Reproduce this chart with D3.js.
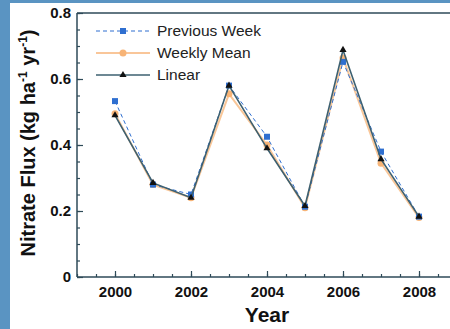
<!DOCTYPE html>
<html>
<head>
<meta charset="utf-8">
<script src="https://d3js.org/d3.v7.min.js"></script>
<style>
  body { margin: 0; background: #fff; }
  svg { display: block; font-family: "Liberation Sans", Arial, sans-serif; }
</style>
</head>
<body>
<svg width="450" height="329"></svg>
<script>
// values
var years = [2000, 2001, 2002, 2003, 2004, 2005, 2006, 2007, 2008];
var previousWeek = [0.533, 0.28, 0.25, 0.58, 0.425, 0.213, 0.652, 0.38, 0.183];
var weeklyMean   = [0.495, 0.28, 0.24, 0.555, 0.40, 0.21, 0.664, 0.345, 0.18];
var linear       = [0.49, 0.285, 0.24, 0.58, 0.39, 0.215, 0.688, 0.357, 0.183];
var yTicks = [0, 0.2, 0.4, 0.6, 0.8];
var xTicks = [2000, 2002, 2004, 2006, 2008];
var seriesNames = ["Previous Week", "Weekly Mean", "Linear"];

var svg = d3.select("svg"),
    width = +svg.attr("width"),
    height = +svg.attr("height");

// blue frame strips of the slide
svg.append("rect").attr("x", 0).attr("y", 0).attr("width", 10).attr("height", height).attr("fill", "#5a94c2");
svg.append("rect").attr("x", 0).attr("y", 0).attr("width", width).attr("height", 3).attr("fill", "#5a94c2");

var x = d3.scaleLinear().domain([1999, 2009]).range([77, 457]);
var y = d3.scaleLinear().domain([0, 0.8]).range([277, 13]);

var axisColor = "#2e4a58";

// x axis
var gx = svg.append("g").attr("transform", "translate(0," + y(0) + ")");
gx.call(d3.axisBottom(x).tickValues(d3.range(1999, 2009.01, 0.5)).tickSize(-3).tickFormat(""));
var gx2 = svg.append("g").attr("transform", "translate(0," + y(0) + ")");
gx2.call(d3.axisBottom(x).tickValues(xTicks).tickSize(-6).tickPadding(9).tickFormat(d3.format("d")));
svg.selectAll("g .domain").remove();
svg.append("line").attr("x1", 77).attr("x2", width).attr("y1", y(0)).attr("y2", y(0)).attr("stroke", axisColor).attr("stroke-width", 1.5);

// y axis
var gy = svg.append("g").attr("transform", "translate(" + x(1999) + ",0)");
gy.call(d3.axisLeft(y).tickValues(d3.range(0, 0.801, 0.05)).tickSize(-3).tickFormat(""));
var gy2 = svg.append("g").attr("transform", "translate(" + x(1999) + ",0)");
gy2.call(d3.axisLeft(y).tickValues(yTicks).tickSize(-6).tickPadding(6)
  .tickFormat(function(d) { return d === 0 ? "0" : d3.format(".1f")(d); }));
svg.selectAll("g .domain").remove();
svg.append("line").attr("x1", 77).attr("x2", 77).attr("y1", y(0)).attr("y2", y(0.8)).attr("stroke", axisColor).attr("stroke-width", 1.5);
svg.append("line").attr("x1", 77).attr("x2", width).attr("y1", y(0.8)).attr("y2", y(0.8)).attr("stroke", axisColor).attr("stroke-width", 1.5);

svg.selectAll(".tick line").attr("stroke", axisColor).attr("stroke-width", 1.2);
svg.selectAll(".tick text").attr("fill", "#111").attr("font-size", 15).attr("font-weight", "bold");

// axis titles
svg.append("text").attr("x", x(2004)).attr("y", 322).attr("text-anchor", "middle")
  .attr("font-size", 21).attr("font-weight", "bold").attr("fill", "#111").text("Year");
var yt = svg.append("text").attr("transform", "translate(35,143) rotate(-90)").attr("text-anchor", "middle")
  .attr("font-size", 20).attr("font-weight", "bold").attr("fill", "#111");
yt.append("tspan").text("Nitrate Flux (kg ha");
yt.append("tspan").attr("font-size", 12).attr("dy", -8).text("-1");
yt.append("tspan").attr("dy", 8).text(" yr");
yt.append("tspan").attr("font-size", 12).attr("dy", -8).text("-1");
yt.append("tspan").attr("dy", 8).text(")");

// series
var line = d3.line().x(function(d) { return x(d[0]); }).y(function(d) { return y(d[1]); });
function pts(vals) { return years.map(function(yr, i) { return [yr, vals[i]]; }); }

var orange = "#f7b477", blue = "#2f6fd0", dark = "#3d6070";

svg.append("path").datum(pts(weeklyMean)).attr("d", line).attr("fill", "none")
  .attr("stroke", orange).attr("stroke-width", 2).attr("opacity", 0.75);
svg.append("g").selectAll("circle").data(pts(weeklyMean)).enter().append("circle")
  .attr("cx", function(d) { return x(d[0]); }).attr("cy", function(d) { return y(d[1]); })
  .attr("r", 3.5).attr("fill", orange);

svg.append("path").datum(pts(previousWeek)).attr("d", line).attr("fill", "none")
  .attr("stroke", blue).attr("stroke-width", 1).attr("stroke-dasharray", "4,3");
svg.append("g").selectAll("rect").data(pts(previousWeek)).enter().append("rect")
  .attr("x", function(d) { return x(d[0]) - 3; }).attr("y", function(d) { return y(d[1]) - 3; })
  .attr("width", 6).attr("height", 6).attr("fill", blue);

svg.append("path").datum(pts(linear)).attr("d", line).attr("fill", "none")
  .attr("stroke", dark).attr("stroke-width", 1.6);
var tri = d3.symbol().type(d3.symbolTriangle).size(22);
svg.append("g").selectAll("path").data(pts(linear)).enter().append("path")
  .attr("d", tri).attr("fill", "#111")
  .attr("transform", function(d) { return "translate(" + x(d[0]) + "," + y(d[1]) + ")"; });

// legend
var leg = svg.append("g");
var ly = [31, 53, 75];
leg.append("line").attr("x1", 96).attr("x2", 150).attr("y1", ly[0]).attr("y2", ly[0])
  .attr("stroke", blue).attr("stroke-dasharray", "4,3");
leg.append("rect").attr("x", 120).attr("y", ly[0] - 3).attr("width", 6).attr("height", 6).attr("fill", blue);
leg.append("line").attr("x1", 96).attr("x2", 150).attr("y1", ly[1]).attr("y2", ly[1])
  .attr("stroke", orange).attr("stroke-width", 2).attr("opacity", 0.75);
leg.append("circle").attr("cx", 123).attr("cy", ly[1]).attr("r", 3.5).attr("fill", orange);
leg.append("line").attr("x1", 96).attr("x2", 150).attr("y1", ly[2]).attr("y2", ly[2])
  .attr("stroke", dark).attr("stroke-width", 1.6);
leg.append("path").attr("d", tri).attr("fill", "#111").attr("transform", "translate(123," + ly[2] + ")");
leg.selectAll("text").data(seriesNames).enter().append("text")
  .attr("x", 157).attr("y", function(d, i) { return ly[i] + 5; })
  .attr("font-size", 15.5).attr("fill", "#222").text(function(d) { return d; });
</script>
</body>
</html>
